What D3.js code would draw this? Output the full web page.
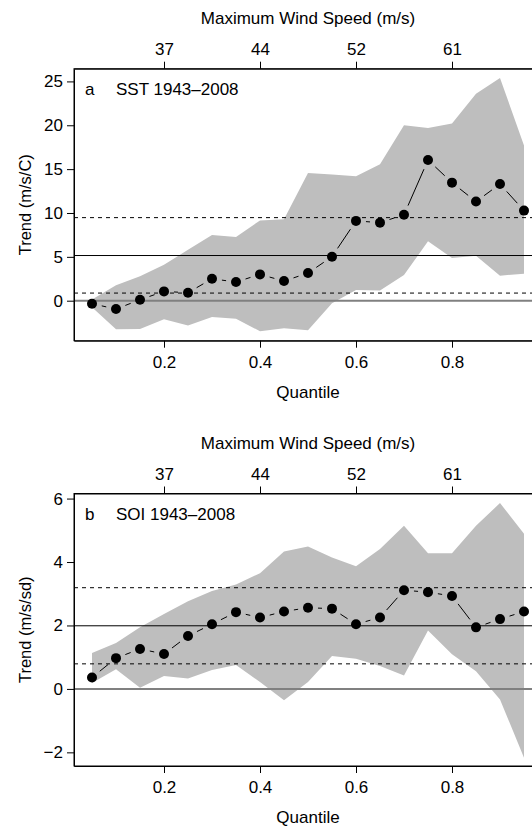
<!DOCTYPE html>
<html>
<head>
<meta charset="utf-8">
<script src="https://cdn.jsdelivr.net/npm/d3@7"></script>
<style>
    body { margin: 0; background: white; }
    svg { display: block; font-family: "Liberation Sans", Arial, sans-serif; }
</style>
</head>
<body>
<div id="canvas"></div>
<script>
// DATA
const quantiles = [0.05, 0.10, 0.15, 0.20, 0.25, 0.30, 0.35, 0.40, 0.45, 0.50,
                   0.55, 0.60, 0.65, 0.70, 0.75, 0.80, 0.85, 0.90, 0.95];
const quantileTicks = [0.2, 0.4, 0.6, 0.8];
const windTickLabels = ["37", "44", "52", "61"];

// panel a: SST
const sstTrend = [-0.34, -0.95, 0.11, 1.06, 0.91, 2.50, 2.13, 3.00, 2.24, 3.15,
                  5.02, 9.10, 8.90, 9.80, 16.04, 13.46, 11.30, 13.30, 10.27];
const sstUpper = [0.15, 1.75, 2.80, 4.10, 5.80, 7.50, 7.25, 9.15, 9.30, 14.55,
                  14.40, 14.20, 15.55, 20.00, 19.70, 20.20, 23.60, 25.40, 17.70];
const sstLower = [-0.76, -3.26, -3.22, -2.12, -2.84, -1.86, -2.05, -3.48, -3.14, -3.37,
                  -0.30, 1.21, 1.17, 2.92, 6.77, 4.87, 5.13, 2.85, 3.08];
const sstRef = { lo: 0.87, mid: 5.15, hi: 9.47 };
const sstTicks = [0, 5, 10, 15, 20, 25];

// panel b: SOI
const soiTrend = [0.36, 0.97, 1.26, 1.10, 1.67, 2.04, 2.42, 2.25, 2.44, 2.56,
                  2.53, 2.04, 2.25, 3.11, 3.05, 2.93, 1.94, 2.20, 2.44];
const soiUpper = [1.13, 1.45, 1.94, 2.36, 2.76, 3.09, 3.29, 3.65, 4.33, 4.49,
                  4.14, 3.87, 4.41, 5.14, 4.28, 4.28, 5.14, 5.86, 4.89];
const soiLower = [0.19, 0.62, 0.04, 0.41, 0.33, 0.60, 0.75, 0.22, -0.36, 0.22,
                  1.04, 0.95, 0.72, 0.42, 1.84, 1.09, 0.56, -0.33, -2.17];
const soiRef = { lo: 0.79, mid: 1.99, hi: 3.19 };
const soiTicks = [-2, 0, 2, 4, 6];

// DIMENSIONS
const width = 532;
const height = 828;

const canvas = d3.select("#canvas")
    .append("svg")
    .attr("width", width)
    .attr("height", height);

const xScale = d3.scaleLinear()
    .domain([0.0125, 0.9875])
    .range([74, 542]);

function drawPanel(opt) {
    const yScale = d3.scaleLinear()
        .domain(opt.yDomain)
        .range([opt.bottom, opt.top]);

    const g = canvas.append("g");
    const [x0, x1] = xScale.range();

    // BAND
    const rows = quantiles.map((q, i) => ({ q: q, lo: opt.lower[i], hi: opt.upper[i], v: opt.trend[i] }));
    const band = d3.area()
        .x(d => xScale(d.q))
        .y0(d => yScale(d.lo))
        .y1(d => yScale(d.hi));
    g.append("path")
        .attr("d", band(rows))
        .attr("fill", "#bebebe");

    // REFERENCE LINES
    g.append("line")
        .attr("x1", x0).attr("x2", x1)
        .attr("y1", yScale(0)).attr("y2", yScale(0))
        .attr("stroke", "#808080").attr("stroke-width", 2);
    [opt.ref.lo, opt.ref.hi].forEach(v => {
        g.append("line")
            .attr("x1", x0).attr("x2", x1)
            .attr("y1", yScale(v)).attr("y2", yScale(v))
            .attr("stroke", "black").attr("stroke-width", 1)
            .attr("stroke-dasharray", "4,4");
    });
    g.append("line")
        .attr("x1", x0).attr("x2", x1)
        .attr("y1", yScale(opt.ref.mid)).attr("y2", yScale(opt.ref.mid))
        .attr("stroke", "black").attr("stroke-width", 1);

    // CONNECTORS (gap round each point)
    const gap = 10;
    for (let i = 0; i < rows.length - 1; i++) {
        const ax = xScale(rows[i].q), ay = yScale(rows[i].v);
        const bx = xScale(rows[i + 1].q), by = yScale(rows[i + 1].v);
        const len = Math.hypot(bx - ax, by - ay);
        if (len <= 2 * gap) continue;
        const ux = (bx - ax) / len, uy = (by - ay) / len;
        g.append("line")
            .attr("x1", ax + ux * gap).attr("y1", ay + uy * gap)
            .attr("x2", bx - ux * gap).attr("y2", by - uy * gap)
            .attr("stroke", "black").attr("stroke-width", 1);
    }

    // POINTS
    g.selectAll("circle.pt")
        .data(rows)
        .enter()
        .append("circle")
        .attr("cx", d => xScale(d.q))
        .attr("cy", d => yScale(d.v))
        .attr("r", 5)
        .attr("fill", "black");

    // BOX
    g.append("rect")
        .attr("x", x0).attr("y", opt.top)
        .attr("width", x1 - x0).attr("height", opt.bottom - opt.top)
        .attr("fill", "none").attr("stroke", "black").attr("stroke-width", 1);

    // AXES
    const bottomAx = d3.axisBottom(xScale)
        .tickValues(quantileTicks)
        .tickFormat(d3.format(".1f"))
        .tickSizeOuter(0).tickSizeInner(7).tickPadding(8);
    g.append("g")
        .attr("class", "axes")
        .attr("transform", `translate(0, ${opt.bottom})`)
        .call(bottomAx);

    const topAx = d3.axisTop(xScale)
        .tickValues(quantileTicks)
        .tickFormat((d, i) => windTickLabels[i])
        .tickSizeOuter(0).tickSizeInner(7).tickPadding(7);
    g.append("g")
        .attr("class", "axes")
        .attr("transform", `translate(0, ${opt.top})`)
        .call(topAx);

    const leftAx = d3.axisLeft(yScale)
        .tickValues(opt.yTicks)
        .tickFormat(d3.format("d"))
        .tickSizeOuter(0).tickSizeInner(7).tickPadding(4);
    g.append("g")
        .attr("class", "axes")
        .attr("transform", `translate(${x0}, 0)`)
        .call(leftAx);

    g.selectAll(".axes text")
        .attr("font-size", 17)
        .attr("fill", "black");
    g.selectAll(".axes line").attr("stroke", "black");
    g.selectAll(".axes path").attr("stroke", "black");

    // LABELS
    const cx = (x0 + x1) / 2;
    g.append("text")
        .attr("x", cx).attr("y", opt.top - 45)
        .attr("text-anchor", "middle")
        .attr("font-size", 17)
        .text("Maximum Wind Speed (m/s)");
    g.append("text")
        .attr("x", cx).attr("y", opt.bottom + 57)
        .attr("text-anchor", "middle")
        .attr("font-size", 17)
        .text("Quantile");
    g.append("text")
        .attr("transform", `translate(31, ${(opt.top + opt.bottom) / 2}) rotate(-90)`)
        .attr("text-anchor", "middle")
        .attr("font-size", 16.5)
        .text(opt.yLabel);
    g.append("text")
        .attr("x", 85).attr("y", opt.top + 26)
        .attr("font-size", 17)
        .text(opt.letter);
    g.append("text")
        .attr("x", 116).attr("y", opt.top + 26)
        .attr("font-size", 17)
        .text(opt.title);
}

drawPanel({
    top: 68.7, bottom: 340.7, yDomain: [-4.56, 26.45], yTicks: sstTicks,
    trend: sstTrend, upper: sstUpper, lower: sstLower, ref: sstRef,
    yLabel: "Trend (m/s/C)", letter: "a", title: "SST 1943\u20132008"
});

drawPanel({
    top: 493.5, bottom: 766, yDomain: [-2.43, 6.16], yTicks: soiTicks,
    trend: soiTrend, upper: soiUpper, lower: soiLower, ref: soiRef,
    yLabel: "Trend (m/s/sd)", letter: "b", title: "SOI 1943\u20132008"
});
</script>
</body>
</html>
